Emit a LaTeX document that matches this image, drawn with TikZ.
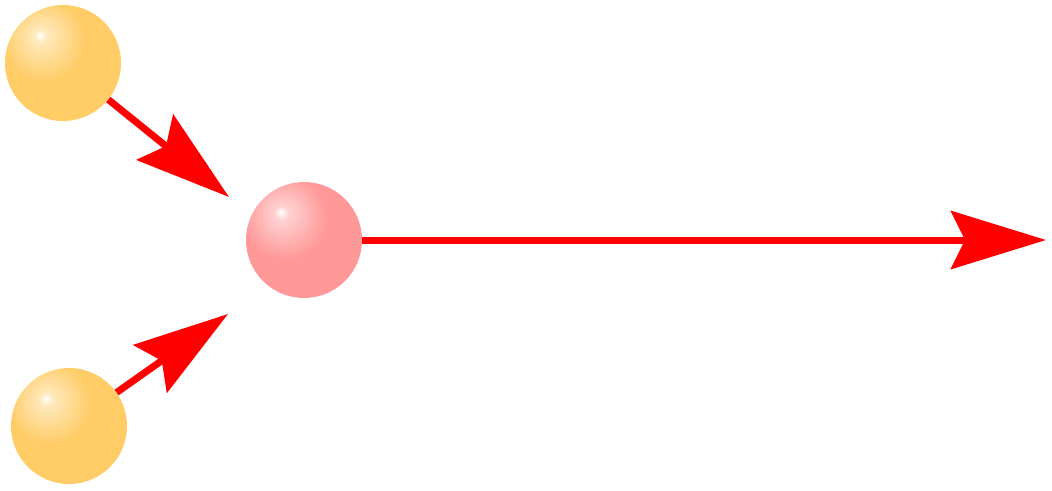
\documentclass[tikz,border=0pt]{standalone}
\usetikzlibrary{arrows.meta}
\definecolor{ballO}{HTML}{FFCC66}
\definecolor{ballP}{HTML}{FF9999}
\definecolor{arrRed}{HTML}{FF0000}
\pgfdeclareradialshading{orangeball}{\pgfpoint{-10bp}{12bp}}{color(0bp)=(white); color(3bp)=(white!55!ballO); color(18bp)=(ballO); color(100bp)=(ballO)}
\pgfdeclareradialshading{pinkball}{\pgfpoint{-10bp}{12bp}}{color(0bp)=(white); color(3bp)=(white!55!ballP); color(18bp)=(ballP); color(100bp)=(ballP)}
\tikzset{
  obal/.style={circle, minimum size=116pt, inner sep=0pt, shading=orangeball},
  pbal/.style={circle, minimum size=116pt, inner sep=0pt, shading=pinkball},
  arr/.style={draw=arrRed, line width=7pt, -{Stealth[length=95pt, width=58pt, inset=14pt]}}
}
\begin{document}
\begin{tikzpicture}[x=1pt, y=-1pt]
\useasboundingbox (0,0) rectangle (1052,490);
\node[obal] (a) at (63,63) {};
\node[obal] (b) at (69,426) {};
\node[pbal] (c) at (304,240) {};
\coordinate (ta) at (229,197);
\coordinate (tb) at (228,314);
\coordinate (tc) at (1046,240);
\draw[arr] (a) -- (ta);
\draw[arr] (b) -- (tb);
\draw[arr] (c) -- (tc);
\end{tikzpicture}
\end{document}
